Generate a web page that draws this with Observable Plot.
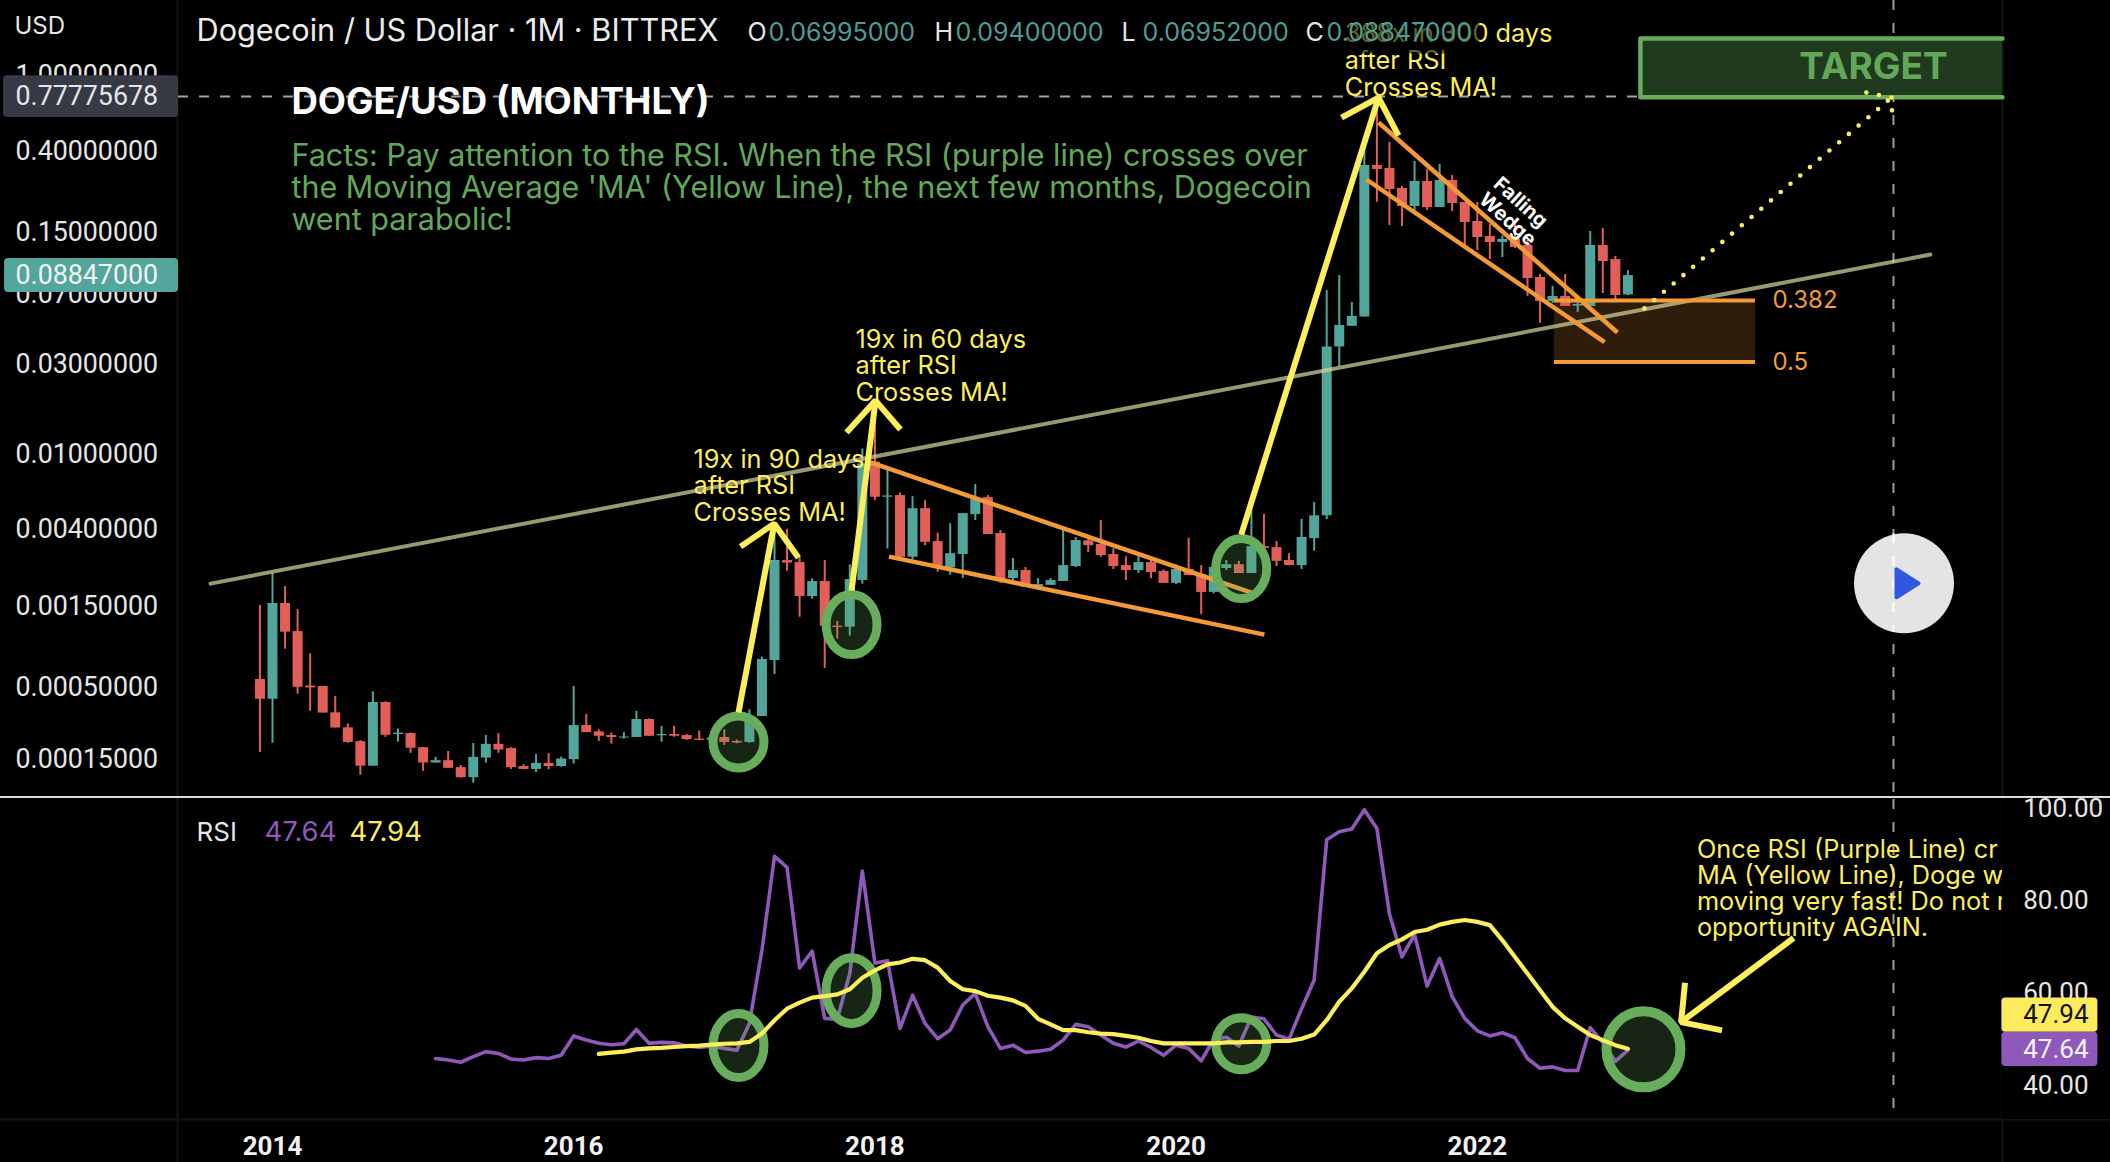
<!DOCTYPE html>
<html><head><meta charset="utf-8">
<script src="https://cdn.jsdelivr.net/npm/d3@7"></script>
<script src="https://cdn.jsdelivr.net/npm/@observablehq/plot@0.6"></script>
<style>
html,body{margin:0;padding:0;background:#000;overflow:hidden;width:2110px;height:1162px}
#wrap{position:relative;width:2110px;height:1162px}
#wrap svg{position:absolute;left:0;display:block;background:transparent;overflow:visible}
</style></head><body><div id="wrap"></div>
<script>
// Monthly candles, December 2013 to January 2023
const opens=[.000561,.000420,.001561,.001082,.000510,.000507,.000341,.000268,.000211,.000131,.000400,.000239,.000243,.000189,.000140,.000147,.000127,.000101,.000155,.000201,.000186,.000130,.000122,.000139,.000130,.000150,.000278,.000250,.000235,.000225,.000227,.000307,.000234,.000239,.000235,.000221,.000216,.000227,.000212,.000208,.000322,.000732,.002696,.002628,.001707,.002068,.001161,.001146,.002094,.00913,.005925,.00605,.002811,.005147,.00342,.00246,.00291,.00478,.00590,.00378,.00215,.002377,.00194,.00197,.00207,.00250,.00345,.00330,.00291,.00253,.002377,.00263,.00235,.00202,.00241,.00226,.00180,.00244,.00256,.00229,.00321,.00317,.002696,.00253,.00355,.00471,.0372,.0478,.0535,.3365,.3245,.2545,.2046,.2771,.2021,.2805,.2148,.1706,.1422,.1322,.1372,.1275,.0865,.0646,.0687,.0611,.0608,.1275,.1076,.06995];
const closes=[.000420,.001561,.001073,.000502,.000497,.000340,.000267,.000208,.000131,.000400,.000236,.000245,.000187,.000140,.000147,.000125,.000101,.000157,.000201,.000181,.000127,.000122,.000139,.000130,.000152,.000278,.000247,.000232,.000227,.000229,.000307,.000232,.000239,.000232,.000219,.000216,.000225,.000208,.000206,.000322,.000742,.002696,.002612,.001707,.002068,.001161,.001141,.002121,.008925,.005925,.006022,.002811,.005147,.00339,.00253,.00294,.00484,.00580,.00373,.002094,.002377,.001924,.00199,.002094,.00253,.003463,.00325,.00287,.00250,.002377,.00263,.00232,.00202,.00241,.00223,.00180,.00247,.00256,.00229,.00321,.00314,.00267,.00253,.00360,.00471,.0372,.0483,.0539,.3365,.3206,.2515,.2046,.2771,.2021,.2805,.2122,.1685,.1405,.1322,.1372,.1245,.0854,.0646,.0687,.0608,.0623,.1275,.1050,.0695,.08847];
const highs=[.001521,.002298,.001940,.001443,.000802,.000507,.000437,.000286,.000215,.000469,.000404,.000263,.000246,.000190,.000157,.000176,.000133,.000204,.000235,.000243,.000189,.000135,.000166,.000169,.000158,.000507,.000332,.000259,.000245,.000247,.000349,.000310,.000274,.000274,.000239,.000254,.000228,.000259,.000217,.000358,.000766,.003922,.003980,.002811,.002140,.002696,.001235,.002553,.01072,.01887,.0084,.00625,.00597,.005686,.00380,.00427,.00484,.00693,.00605,.003922,.00277,.00247,.00215,.00215,.003922,.00360,.00354,.004441,.00312,.00283,.00283,.002696,.00240,.00255,.00356,.00253,.002479,.002696,.00267,.005026,.00478,.00342,.00294,.00450,.00555,.0739,.0886,.0639,.4288,.6966,.4465,.2608,.3532,.3206,.3405,.2980,.2148,.2148,.165,.1435,.172,.1355,.0897,.0776,.0897,.0654,.1511,.1570,.1116,.094];
const lows=[.000173,.000205,.000854,.000453,.000350,.000340,.000267,.000205,.000107,.000131,.000228,.000209,.000170,.000117,.000140,.000125,.000100,.000088,.000140,.000170,.000122,.000121,.000114,.000121,.000128,.000137,.000247,.000212,.000202,.000221,.000227,.000232,.000209,.000228,.000216,.000215,.000215,.000197,.000203,.000205,.000322,.000602,.002357,.001306,.001650,.000655,.000978,.001018,.001998,.005686,.00312,.002790,.002725,.00325,.002328,.00224,.00215,.004441,.00373,.00202,.002094,.001924,.001844,.00197,.00207,.00247,.00298,.002811,.00241,.002094,.00229,.00215,.00202,.00199,.00223,.00135,.001767,.002377,.00229,.00229,.00311,.00250,.00253,.00241,.00303,.0045,.0292,.0478,.0535,.2155,.1625,.1605,.1925,.1949,.2021,.1925,.1275,.1200,.1076,.1102,.1229,.0687,.0495,.0629,.0608,.0566,.0608,.0712,.0654,.06952];
// RSI from February 2015, its moving average from March 2016
const rsi=[45.8,45.5,45.0,46.2,47.3,46.9,45.7,45.5,46.0,45.8,46.5,50.7,49.8,49.1,48.8,49.0,52.1,49.1,49.3,49.2,48.5,48.2,48.5,48.0,47.6,53.4,69.3,89.6,87.2,65.4,69.05,54.5,54.3,64.2,86.4,66.5,67.0,52.3,59.5,53.4,50.1,52.0,57.4,59.9,52.7,48.0,48.7,47.1,47.4,47.8,49.8,53.2,52.7,50.9,49.1,48.3,49.6,48.2,46.5,48.7,48.0,45.3,50.0,50.4,48.5,54.8,54.4,50.9,50.0,56.6,62.8,93.2,94.9,95.5,99.7,95.6,77.1,67.8,72.7,61.5,67.5,59.2,54.5,51.8,50.7,51.4,50.3,45.8,43.7,44.0,43.2,43.2,52.5,49.3,45.2,47.64];
const rsiMA=[46.8,47.1,47.3,47.8,48.0,48.1,48.3,48.5,48.6,48.8,49.0,49.1,49.4,51.2,54.1,56.6,57.9,59.0,59.3,59.7,60.8,63.3,64.9,66.2,66.6,67.4,67.1,65.5,62.6,60.8,60.4,59.4,59.0,58.4,57.2,54.4,53.2,51.95,51.95,51.5,51.2,51.1,50.7,50.3,49.6,49.1,49.1,49.1,49.1,49.1,49.3,49.3,49.4,49.4,49.6,49.6,50.1,51.0,54.1,58.1,61.0,64.6,68.6,70.4,71.6,73.2,73.7,74.8,75.4,75.8,75.4,74.7,71.4,67.8,64.2,60.6,57.0,54.5,52.7,50.9,49.8,48.7,47.94];
const priceTicks=[1,.4,.15,.07,.03,.01,.004,.0015,.0005,.00015];
const rsiTicks=[100,80,60,40];
const years=[[0,"2014"],[24,"2016"],[48,"2018"],[72,"2020"],[96,"2022"]];
const lastPrice=.08847, highPrice=.77775678, fib382=.0654, fib5=.0310;
// Drawn annotations: [month position, price]
const trendline=[[-4.94,.002014],[132.1,.1142]];
const wedges=[[[47.65,.00911],[78.0,.001796]],[[49.12,.002833],[79.04,.001039]],[[88.13,.5666],[107.17,.0443]],[[87.17,.2840],[106.14,.0394]]];
const arrows=[[[37.13,.000343],[39.98,.004275]],[[37.29,.003211],[39.98,.004275],[41.91,.002797]],[[46.14,.001841],[48.05,.01935]],[[45.74,.01310],[48.05,.01935],[50.04,.01359]],[[77.19,.003729],[88.13,.7674]],[[85.18,.6020],[88.13,.7674],[89.72,.4840]]];
const targetPath=[[[109.32,.0594],[129.0,.7674]],[[127.0,.8155],[129.0,.7674],[129.08,.5666]]];
const priceRings=[[37.13,.00021,25.5,26],[46.14,.001186,25.5,30],[77.19,.002437,25.5,30]];
const rsiRings=[[37.13,48.6,25.5,32],[46.14,60.5,25.5,33],[77.19,49.0,25.5,26]];
const bigRing=[[109.24,47.8,37,38]];
const rsiArrow=[[[121.2,71.9],[112.24,53.7]],[[112.55,62.2],[112.24,53.7],[115.5,51.9]]];

const MONTH=30.4375*864e5, T0=Date.UTC(2014,0,1);
const t=m=>new Date(T0+m*MONTH);
const mL=-7.49, mR=137.85, mCross=129.16;
const OFFSET=.0001;
const xScale={type:"utc",domain:[t(-21.673),t(146.454)],range:[0,2110]};
const candles=opens.map((o,k)=>({date:t(k-1),open:o,high:highs[k],low:lows[k],close:closes[k]}));
const TEAL="#52a59a",RED="#e15f58",GREEN="#67ad5b",YEL="#fdee5c",ORANGE="#f29b36",PURPLE="#8f58bb",FONT="Inter",AXF="Roboto";
const ellipse=(rx,ry)=>({draw(c){const k=.5523;c.moveTo(rx,0);c.bezierCurveTo(rx,ry*k,rx*k,ry,0,ry);c.bezierCurveTo(-rx*k,ry,-rx,ry*k,-rx,0);c.bezierCurveTo(-rx,-ry*k,-rx*k,-ry,0,-ry);c.bezierCurveTo(rx*k,-ry,rx,-ry*k,rx,0);c.closePath();}});
const playTri={draw(c){c.moveTo(-7.5,-14);c.lineTo(-7.5,14);c.lineTo(14.5,0);c.closePath();}};
const seg=(pts,o)=>Plot.line(pts,{x:d=>t(d[0]),y:d=>d[1],...o});
const ring=(r,w=9)=>Plot.dot([r],{x:d=>t(d[0]),y:d=>d[1],symbol:ellipse(r[2],r[3]),stroke:GREEN,strokeWidth:w,fill:GREEN,fillOpacity:.22});
const frameText=(s,dx,dy,o)=>Plot.text([s],{frameAnchor:"top-left",dx,dy,text:d=>d,textAnchor:"start",lineAnchor:"middle",fontFamily:FONT,...o});
const at=(m,p,s,o)=>Plot.text([s],{x:()=>t(m),y:()=>p,text:d=>d,fontFamily:FONT,lineAnchor:"middle",textAnchor:"start",...o});
const yellowNote=(m,p,s)=>at(m,p,s,{fill:YEL,fontSize:25.3,lineHeight:1.05});
const P={fontSize:26.8,fontFamily:AXF,fill:"#e6e6e6"};

const pricePane=Plot.plot({
  width:2110,height:798,margin:0,style:{background:"transparent",fontFamily:FONT},
  x:{...xScale,axis:null},
  y:{type:"log",transform:v=>v+OFFSET,domain:[2.49,.000158],range:[0,797],axis:null},
  marks:[
    Plot.ruleX([mL-.08,mR],{x:d=>t(d),stroke:"#141414",strokeWidth:2}),
    Plot.ruleX([mCross],{x:d=>t(d),stroke:"#9b9ba2",strokeWidth:2,strokeDasharray:"10 13"}),
    Plot.rect([fib382],{x1:()=>t(102.15),x2:()=>t(118.17),y1:()=>fib382,y2:()=>fib5,fill:ORANGE,fillOpacity:.19}),
    Plot.ruleX(candles.filter(d=>d.close>=d.open),{x:"date",y1:"low",y2:"high",stroke:TEAL,strokeWidth:2}),
    Plot.ruleX(candles.filter(d=>d.close<d.open),{x:"date",y1:"low",y2:"high",stroke:RED,strokeWidth:2}),
    Plot.ruleX(candles.filter(d=>d.close>=d.open),{x:"date",y1:"open",y2:"close",stroke:TEAL,strokeWidth:10}),
    Plot.ruleX(candles.filter(d=>d.close<d.open),{x:"date",y1:"open",y2:"close",stroke:RED,strokeWidth:10}),
    Plot.ruleY([highPrice],{x1:()=>t(mL),x2:()=>t(mR),y:d=>d,stroke:"#a3a3ac",strokeWidth:2,strokeDasharray:"10 11"}),
    seg(trendline,{stroke:"#d6d29a",strokeOpacity:.72,strokeWidth:4}),
    ...wedges.map(w=>seg(w,{stroke:ORANGE,strokeWidth:4.5,strokeLinecap:"butt"})),
    Plot.ruleY([fib382,fib5],{x1:()=>t(102.15),x2:()=>t(118.17),y:d=>d,stroke:ORANGE,strokeWidth:4}),
    Plot.rect([0],{x1:()=>t(109),x2:()=>t(mR),y1:()=>1.569,y2:()=>.770,fill:"#1f3a1e"}),
    seg([[mR,1.569],[109,1.569],[109,.770],[mR,.770]],{stroke:GREEN,strokeWidth:4.5,curve:"linear"}),
    at(127.57,1.104,"TARGET",{fill:"#62a858",fontSize:37,fontWeight:700,textAnchor:"middle"}),
    ...priceRings.map(r=>ring(r)),
    ...arrows.map(a=>seg(a,{stroke:YEL,strokeWidth:6,strokeLinejoin:"miter",strokeLinecap:"butt"})),
    ...targetPath.map(a=>seg(a,{stroke:YEL,strokeWidth:4.6,strokeDasharray:"0 12.8",strokeLinecap:"round"})),
    Plot.dot([0],{x:()=>t(130.0),y:()=>.002021,r:50,fill:"#e4e4e4"}),
    Plot.ruleX([mCross],{x:d=>t(d),y1:()=>.003777,y2:()=>.001067,stroke:"#fff",strokeWidth:2,strokeDasharray:"10 13"}),
    Plot.dot([0],{x:()=>t(130.0),y:()=>.002021,symbol:playTri,fill:"#2f57e0",stroke:"#2f57e0",strokeWidth:4,strokeLinejoin:"round"}),
    yellowNote(33.55,.00684,"19x in 90 days\nafter RSI\nCrosses MA!"),
    yellowNote(46.45,.02965,"19x in 60 days\nafter RSI\nCrosses MA!"),
    yellowNote(85.44,1.2023,"388x in 300 days\nafter RSI\nCrosses MA!"),
    at(119.52,fib382,"0.382",{fill:ORANGE,fontSize:24}),
    at(119.52,fib5,"0.5",{fill:ORANGE,fontSize:24}),
    at(99.44,.2148,"Falling",{fill:"#fff",fontSize:20,fontWeight:700,rotate:42,textAnchor:"middle"}),
    at(98.41,.1748,"Wedge",{fill:"#fff",fontSize:20,fontWeight:700,rotate:42,textAnchor:"middle"}),
    at(1.51,.7224,"DOGE/USD (MONTHLY)",{fill:"#fff",fontSize:36.6,fontWeight:700}),
    at(1.51,.2576,"Facts: Pay attention to the RSI. When the RSI (purple line) crosses over\nthe Moving Average 'MA' (Yellow Line), the next few months, Dogecoin\nwent parabolic!",{fill:"#63a85a",fontSize:30.5,lineHeight:1.05}),
    Plot.rect([0],{x1:()=>t(83.7),x2:()=>t(96.2),y1:()=>1.87,y2:()=>1.30,fill:"#000",fillOpacity:.6}),
    frameText("Dogecoin / US Dollar · 1M · BITTREX",196,31,{fontSize:30.7,fill:"#ececec"}),
    ...[["O","0.06995000",747],["H","0.09400000",934],["L","0.06952000",1121],["C","0.08847000",1305]].flatMap(([k,v,dx])=>[
      frameText(k,dx,32,{fontSize:25,fill:"#e6e6e6"}),
      frameText(v,dx+21,32,{fontSize:25,fill:"#4a9f95"})]),
    frameText("USD",14,26,{fontSize:24,fill:"#e6e6e6"}),
    Plot.text(priceTicks,{y:d=>d,frameAnchor:"left",dx:15,text:d=>d.toFixed(8),textAnchor:"start",...P}),
    Plot.rect([0],{x1:()=>t(-21.43),x2:()=>t(mL),y1:()=>1.0,y2:()=>.602,fill:"#363a45",rx:4}),
    Plot.text([highPrice],{y:d=>d,frameAnchor:"left",dx:15,text:d=>d.toFixed(8),textAnchor:"start",...P}),
    Plot.rect([0],{x1:()=>t(-21.35),x2:()=>t(mL),y1:()=>.1089,y2:()=>.0721,fill:"#53a69b",rx:4}),
    Plot.text([lastPrice],{y:d=>d,frameAnchor:"left",dx:15,text:d=>d.toFixed(8),textAnchor:"start",...P,fill:"#f2f2f2"})
  ]
});
pricePane.style.top="0px";

const rsiPane=Plot.plot({
  width:2110,height:365,margin:0,style:{background:"transparent",fontFamily:FONT},
  x:{...xScale,axis:null},
  y:{domain:[101.9,32.6],range:[2,322],axis:null},
  marks:[
    Plot.ruleX([mL-.08,mR],{x:d=>t(d),stroke:"#141414",strokeWidth:2}),
    Plot.ruleY([32.6],{stroke:"#141414",strokeWidth:2}),
    Plot.ruleX([mCross],{x:d=>t(d),y1:()=>101.9,y2:()=>32.6,stroke:"#9b9ba2",strokeWidth:2,strokeDasharray:"10 13"}),
    Plot.line(rsi,{x:(d,k)=>t(k+13),y:d=>d,stroke:PURPLE,strokeWidth:3.6}),
    ...rsiRings.map(r=>ring(r)),
    ring(bigRing[0],10),
    Plot.line(rsiMA,{x:(d,k)=>t(k+26),y:d=>d,stroke:YEL,strokeWidth:4.2}),
    ...rsiArrow.map(a=>seg(a,{stroke:YEL,strokeWidth:6,strokeLinecap:"butt",strokeLinejoin:"miter"})),
    at(113.5,82.6,"Once RSI (Purple Line) cr\nMA (Yellow Line), Doge w\nmoving very fast! Do not m\nopportunity AGAIN.",{fill:YEL,fontSize:25.3,lineHeight:1.04}),
    Plot.rect([0],{x1:()=>t(mR),x2:()=>t(146.5),y1:()=>101.9,y2:()=>32.6,fill:"#000"}),
    Plot.text(rsiTicks,{x:()=>t(139.5),y:d=>d,text:d=>d.toFixed(2),textAnchor:"start",...P,fontSize:26}),
    Plot.rect([0],{x1:()=>t(137.8),x2:()=>t(145.45),y1:()=>58.9,y2:()=>51.5,fill:"#fdeb5e",rx:4}),
    Plot.rect([0],{x1:()=>t(137.8),x2:()=>t(145.45),y1:()=>51.5,y2:()=>44.1,fill:"#8f58bb",rx:4}),
    Plot.text([47.94],{x:()=>t(139.5),y:()=>55.2,text:d=>d.toFixed(2),textAnchor:"start",...P,fontSize:26,fill:"#111"}),
    Plot.text([47.64],{x:()=>t(139.5),y:()=>47.8,text:d=>d.toFixed(2),textAnchor:"start",...P,fontSize:26,fill:"#f4f4f4"}),
    frameText("RSI",196,35,{fontSize:26,fill:"#e6e6e6"}),
    frameText("47.64",264,35,{fontSize:27.5,fill:PURPLE}),
    frameText("47.94",349,35,{fontSize:27.5,fill:YEL}),
    Plot.text(years,{x:d=>t(d[0]),frameAnchor:"bottom",lineAnchor:"middle",dy:-16,text:d=>d[1],fill:"#f2f2f2",fontFamily:AXF,fontSize:26,fontWeight:700})
  ]
});
rsiPane.style.top="797px";
const sep=document.createElement("div");
sep.style.cssText="position:absolute;left:0;top:796px;width:2110px;height:2px;background:#dcdcdc";
document.getElementById("wrap").append(pricePane,rsiPane,sep);
</script></body></html>
